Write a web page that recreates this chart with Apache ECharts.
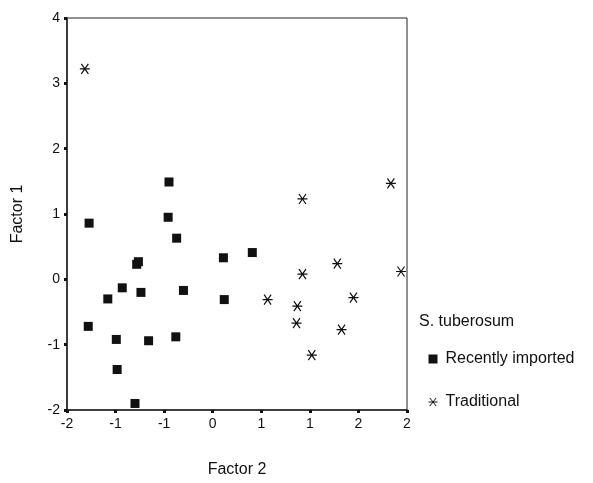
<!DOCTYPE html>
<html>
<head>
<meta charset="utf-8">
<title>Factor plot</title>
<script src="https://cdn.jsdelivr.net/npm/echarts@6/dist/echarts.min.js"></script>
<style>
  html, body { margin: 0; padding: 0; background: #fff; }
  #chart { width: 593px; height: 483px; }
</style>
</head>
<body>
<div id="chart"></div>
<script>
// Factor 2 (x) / Factor 1 (y) scores
var importedX = [-1.74, -0.80, -0.81, -0.71, -1.18, -1.16, -1.35, -1.52, -1.13, -0.63, -0.16, 0.18, -0.15, -1.75, -1.42, -1.04, -0.72, -1.41, -1.20];
var importedY = [0.86, 1.49, 0.95, 0.63, 0.23, 0.27, -0.13, -0.30, -0.20, -0.17, 0.33, 0.41, -0.31, -0.72, -0.92, -0.94, -0.88, -1.38, -1.90];
var traditionalX = [-1.79, 0.77, 1.81, 0.36, 0.77, 1.18, 1.93, 1.37, 0.71, 0.70, 1.23, 0.88];
var traditionalY = [3.22, 1.23, 1.47, -0.31, 0.08, 0.24, 0.12, -0.28, -0.41, -0.67, -0.77, -1.16];

// the x axis has 8 ticks with rounded labels
var xTickLabels = ['-2', '-1', '-1', '0', '1', '1', '2', '2'];
var seriesNames = ['Recently imported', 'Traditional'];

var xTicks = [];
for (var i = 0; i < xTickLabels.length; i++) {
    xTicks.push(-2 + i * 4 / 7);
}

function pairs(xs, ys) {
    var out = [];
    for (var i = 0; i < xs.length; i++) out.push([xs[i], ys[i]]);
    return out;
}

var starPath = 'path://M0,5 L10,5 M1.5,0.5 L8.5,9.5 M8.5,0.5 L1.5,9.5';
var font = 'Liberation Sans, Arial, sans-serif';

var myChart = echarts.init(document.getElementById('chart'));
var option = {
    animation: false,
    backgroundColor: '#fff',
    title: {
        text: 'S. tuberosum',
        left: 414,
        top: 309,
        textStyle: { fontFamily: font, fontSize: 16, fontWeight: 'normal', color: '#111' }
    },
    legend: {
        orient: 'vertical',
        left: 421,
        top: 346,
        itemGap: 27,
        itemWidth: 9,
        itemHeight: 9,
        textStyle: { fontFamily: font, fontSize: 16, color: '#111', padding: [0, 0, 0, 3] },
        data: [
            { name: seriesNames[0], icon: 'rect', itemStyle: { color: '#111' } },
            { name: seriesNames[1], icon: starPath, itemStyle: { color: 'none', borderColor: '#111', borderWidth: 1 } }
        ]
    },
    grid: {
        left: 67,
        right: 186,
        top: 18,
        bottom: 70,
        show: true,
        borderColor: '#222',
        borderWidth: 1
    },
    xAxis: {
        type: 'value',
        min: -2,
        max: 2,
        name: 'Factor 2',
        nameLocation: 'middle',
        nameGap: 52,
        nameTextStyle: { fontFamily: font, fontSize: 16, color: '#111' },
        axisLine: { onZero: false, lineStyle: { color: '#222', width: 1.5 } },
        axisTick: { show: true, customValues: xTicks, length: 3, lineStyle: { color: '#111', width: 3 } },
        axisLabel: {
            customValues: xTicks,
            fontFamily: font, fontSize: 14, color: '#111', margin: 7,
            formatter: function (v) {
                for (var i = 0; i < xTicks.length; i++) {
                    if (Math.abs(xTicks[i] - v) < 1e-6) return xTickLabels[i];
                }
                return '';
            }
        },
        splitLine: { show: false }
    },
    yAxis: {
        type: 'value',
        min: -2,
        max: 4,
        interval: 1,
        name: 'Factor 1',
        nameLocation: 'middle',
        nameGap: 41,
        nameRotate: 90,
        nameTextStyle: { fontFamily: font, fontSize: 16, color: '#111' },
        axisLine: { onZero: false, lineStyle: { color: '#222', width: 1.5 } },
        axisTick: { show: true, length: 3, lineStyle: { color: '#111', width: 3 } },
        axisLabel: { fontFamily: font, fontSize: 14, color: '#111', margin: 7 },
        splitLine: { show: false }
    },
    series: [
        {
            name: seriesNames[0],
            type: 'scatter',
            symbol: 'rect',
            symbolSize: 9,
            itemStyle: { color: '#111', opacity: 1 },
            data: pairs(importedX, importedY)
        },
        {
            name: seriesNames[1],
            type: 'scatter',
            symbol: starPath,
            symbolSize: 10,
            itemStyle: { color: 'none', borderColor: '#111', borderWidth: 1.2, opacity: 1 },
            data: pairs(traditionalX, traditionalY)
        }
    ]
};
myChart.setOption(option);
</script>
</body>
</html>
